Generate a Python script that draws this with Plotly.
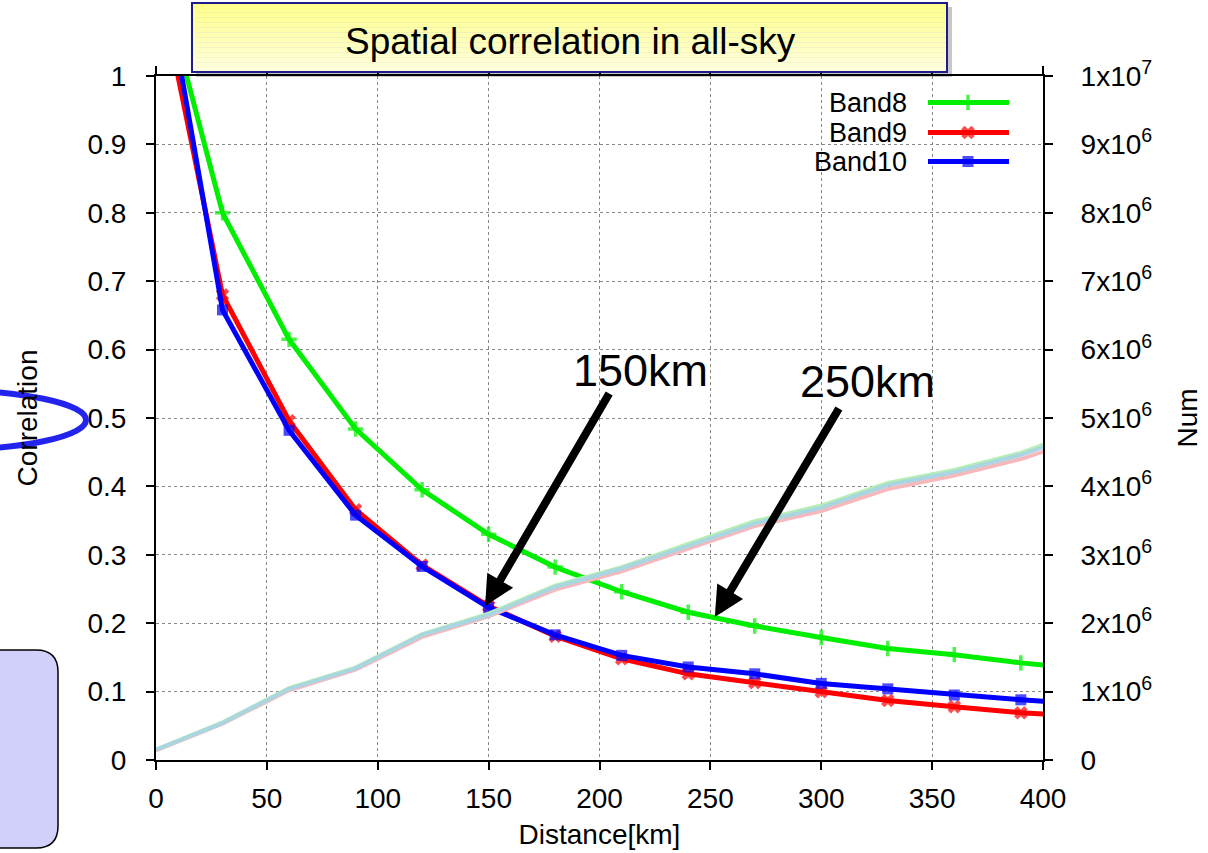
import plotly.graph_objects as go

# ---------------- data ----------------
distance_km = [0, 30, 60, 90, 120, 150, 180, 210, 240, 270, 300, 330, 360, 390, 420]

corr_band8 = [1.17, 0.800, 0.615, 0.484, 0.395, 0.330, 0.282, 0.246, 0.216, 0.196, 0.179, 0.163, 0.154, 0.142, 0.133]
corr_band9 = [1.158, 0.680, 0.496, 0.366, 0.285, 0.225, 0.181, 0.148, 0.126, 0.113, 0.100, 0.087, 0.078, 0.069, 0.064]
corr_band10 = [1.216, 0.658, 0.482, 0.358, 0.283, 0.223, 0.183, 0.153, 0.136, 0.126, 0.112, 0.104, 0.095, 0.088, 0.082]

num_band8 = [0.15e6, 0.55e6, 1.05e6, 1.35e6, 1.84e6, 2.14e6, 2.55e6, 2.82e6, 3.16e6, 3.49e6, 3.72e6, 4.05e6, 4.24e6, 4.49e6, 4.84e6]
num_band9 = [0.14e6, 0.53e6, 1.02e6, 1.32e6, 1.80e6, 2.10e6, 2.49e6, 2.76e6, 3.09e6, 3.42e6, 3.64e6, 3.96e6, 4.16e6, 4.40e6, 4.72e6]
num_band10 = [0.15e6, 0.54e6, 1.04e6, 1.34e6, 1.83e6, 2.12e6, 2.53e6, 2.80e6, 3.13e6, 3.46e6, 3.69e6, 4.02e6, 4.21e6, 4.46e6, 4.80e6]

band_names = ["Band8", "Band9", "Band10"]
x_ticks = [0, 50, 100, 150, 200, 250, 300, 350, 400]
y_ticks = [0, 0.1, 0.2, 0.3, 0.4, 0.5, 0.6, 0.7, 0.8, 0.9, 1]
y_ticktext = ["0", "0.1", "0.2", "0.3", "0.4", "0.5", "0.6", "0.7", "0.8", "0.9", "1"]
y2_tickvals = [0, 1e6, 2e6, 3e6, 4e6, 5e6, 6e6, 7e6, 8e6, 9e6, 1e7]
y2_ticktext = ["0", "1x10<sup>6</sup>", "2x10<sup>6</sup>", "3x10<sup>6</sup>", "4x10<sup>6</sup>",
               "5x10<sup>6</sup>", "6x10<sup>6</sup>", "7x10<sup>6</sup>", "8x10<sup>6</sup>",
               "9x10<sup>6</sup>", "1x10<sup>7</sup>"]

# ---------------- geometry helpers ----------------
W, H = 1208, 853
L, R, T, B = 156, 165, 76, 93
PW, PH = W - L - R, H - T - B


def pxx(p):
    return (p - L) / PW


def pxy(p):
    return (H - B - p) / PH


FONT = "Liberation Sans"

fig = go.Figure()

styles = [
    (corr_band8, "#00ee00", "cross-thin", 11, 3.5),
    (corr_band9, "#ff0000", "x", 12, 0),
    (corr_band10, "#0000ff", "square", 11, 0),
]
for (vals, col, sym, ms, mlw), name in zip(styles, band_names):
    fig.add_trace(go.Scatter(
        x=distance_km, y=vals, mode="lines+markers", name=name,
        line=dict(color=col, width=5),
        marker=dict(symbol=sym, size=[0] + [ms] * (len(vals) - 2) + [0], color=col,
                    line=dict(color=col, width=mlw)),
        showlegend=False, xaxis="x", yaxis="y"))

for vals, col in [(num_band9, "#f7b8bc"), (num_band8, "#b4f0b4"), (num_band10, "#a9d6e0")]:
    fig.add_trace(go.Scatter(
        x=distance_km, y=vals, mode="lines", line=dict(color=col, width=4),
        showlegend=False, xaxis="x", yaxis="y2", hoverinfo="skip"))

# custom legend (text left, sample right) on a hidden overlay axis
leg_y = [pxy(102.5), pxy(132.5), pxy(161.5)]
leg_x = [pxx(928), pxx(968), pxx(1009)]
for (vals, col, sym, ms, mlw), name, ly in zip(styles, band_names, leg_y):
    fig.add_trace(go.Scatter(
        x=leg_x, y=[ly] * 3, mode="lines+markers",
        line=dict(color=col, width=5),
        marker=dict(symbol=sym, size=[0, ms, 0], color=col, line=dict(color=col, width=mlw)),
        showlegend=False, xaxis="x3", yaxis="y3", hoverinfo="skip"))

annotations = []
for name, ly in zip(band_names, leg_y):
    annotations.append(dict(x=pxx(909), y=ly, xref="paper", yref="paper", text=name,
                            showarrow=False, xanchor="right", yanchor="middle",
                            font=dict(family=FONT, size=27, color="black")))

# arrows and labels
annotations += [
    dict(x=148.4, y=0.225, xref="x", yref="y", ax=125, ay=-214, axref="pixel", ayref="pixel",
         showarrow=True, arrowhead=2, arrowsize=0.75, arrowwidth=8, arrowcolor="black", text=""),
    dict(x=252.0, y=0.209, xref="x", yref="y", ax=125, ay=-210, axref="pixel", ayref="pixel",
         showarrow=True, arrowhead=2, arrowsize=0.75, arrowwidth=8, arrowcolor="black", text=""),
    dict(x=pxx(640), y=pxy(370), xref="paper", yref="paper", text="150km", showarrow=False,
         xanchor="center", yanchor="middle", font=dict(family=FONT, size=45, color="black")),
    dict(x=pxx(867), y=pxy(382), xref="paper", yref="paper", text="250km", showarrow=False,
         xanchor="center", yanchor="middle", font=dict(family=FONT, size=45, color="black")),
    dict(x=pxx(570), y=pxy(41), xref="paper", yref="paper", text="Spatial correlation in all-sky",
         showarrow=False, xanchor="center", yanchor="middle",
         font=dict(family=FONT, size=37, color="black")),
]

shapes = []
# title box shadow + gradient strips + border
bx0, bx1, by0, by1 = 192, 947, 3, 72
shapes.append(dict(type="rect", xref="paper", yref="paper", x0=pxx(bx0 + 4), x1=pxx(bx1 + 5),
                   y0=pxy(by1 + 5), y1=pxy(by0 + 4), fillcolor="rgba(0,0,0,0.22)",
                   line=dict(width=0), layer="above"))
n = 14
top = (255, 255, 140)
bot = (255, 255, 222)
for i in range(n):
    t = i / (n - 1)
    c = tuple(int(top[k] + (bot[k] - top[k]) * t) for k in range(3))
    ya = by0 + (by1 - by0) * i / n
    yb = by0 + (by1 - by0) * (i + 1) / n
    shapes.append(dict(type="rect", xref="paper", yref="paper", x0=pxx(bx0), x1=pxx(bx1),
                       y0=pxy(yb), y1=pxy(ya), fillcolor="rgb(%d,%d,%d)" % c,
                       line=dict(width=0), layer="above"))
shapes.append(dict(type="rect", xref="paper", yref="paper", x0=pxx(bx0), x1=pxx(bx1),
                   y0=pxy(by1), y1=pxy(by0), line=dict(color="#1c1c8c", width=2), layer="above"))

# lavender rounded box (bottom-left)
lx0, lx1, ly0, ly1, r = -40, 58, 650, 848, 22


def P(x, y):
    return "%.5f,%.5f" % (pxx(x), pxy(y))


path = ("M " + P(lx0 + r, ly0) + " L " + P(lx1 - r, ly0) + " Q " + P(lx1, ly0) + " " + P(lx1, ly0 + r) +
        " L " + P(lx1, ly1 - r) + " Q " + P(lx1, ly1) + " " + P(lx1 - r, ly1) +
        " L " + P(lx0 + r, ly1) + " Q " + P(lx0, ly1) + " " + P(lx0, ly1 - r) +
        " L " + P(lx0, ly0 + r) + " Q " + P(lx0, ly0) + " " + P(lx0 + r, ly0) + " Z")
shapes.append(dict(type="path", xref="paper", yref="paper", path=path, fillcolor="#d0d0fb",
                   line=dict(color="black", width=1.5), layer="above"))

# blue ellipse
shapes.append(dict(type="circle", xref="paper", yref="paper", x0=pxx(-205), x1=pxx(86),
                   y0=pxy(450), y1=pxy(390), line=dict(color="#2323ee", width=6), layer="above"))

axis_font = dict(family=FONT, size=28, color="black")

fig.update_layout(
    width=W, height=H,
    margin=dict(l=L, r=R, t=T, b=B, autoexpand=False),
    paper_bgcolor="white", plot_bgcolor="white",
    font=dict(family=FONT, color="black"),
    xaxis=dict(range=[0, 400], tickvals=x_ticks, tickfont=axis_font, ticklabelstandoff=4,
               showgrid=True, gridcolor="#888888", griddash="dot", gridwidth=1,
               showline=True, linecolor="black", linewidth=2, mirror="ticks",
               ticks="outside", ticklen=8, tickwidth=1.5, tickcolor="black", zeroline=False,
               title=dict(text="Distance[km]", font=axis_font, standoff=12)),
    yaxis=dict(range=[0, 1], tickvals=y_ticks, ticktext=y_ticktext, tickfont=axis_font,
               ticklabelstandoff=14,
               showgrid=True, gridcolor="#888888", griddash="dot", gridwidth=1,
               showline=True, linecolor="black", linewidth=2, mirror=False,
               ticks="outside", ticklen=8, tickwidth=1.5, tickcolor="black", zeroline=False,
               title=dict(text="Correlation", font=axis_font, standoff=42)),
    yaxis2=dict(range=[0, 1e7], tickvals=y2_tickvals, ticktext=y2_ticktext, tickfont=axis_font,
                ticklabelstandoff=22,
                overlaying="y", side="right", showgrid=False, zeroline=False,
                showline=True, linecolor="black", linewidth=2,
                ticks="outside", ticklen=8, tickwidth=1.5, tickcolor="black",
                title=dict(text="Num", font=axis_font, standoff=26)),
    xaxis3=dict(range=[0, 1], overlaying="x", visible=False),
    yaxis3=dict(range=[0, 1], overlaying="y", visible=False),
    annotations=annotations,
    shapes=shapes,
    showlegend=False,
)

fig.write_html("out.html")
